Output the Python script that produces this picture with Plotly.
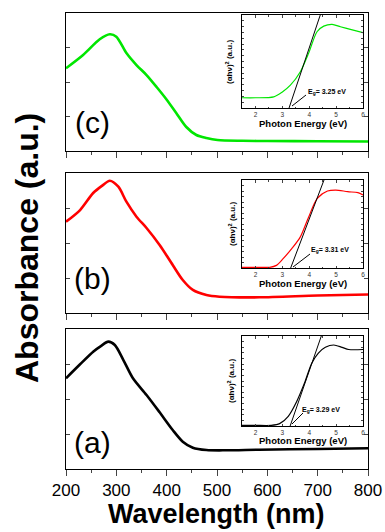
import plotly.graph_objects as go

W, H = 385, 532

# ---------------- main spectra (absorbance, a.u.) ----------------
wl_a = [200, 228, 254, 270, 284, 297, 314, 333, 360, 386, 412, 432, 452, 479, 518, 584, 700, 800]
abs_a = [1.296, 1.496, 1.676, 1.76, 1.819, 1.771, 1.557, 1.296, 1.057, 0.81, 0.557, 0.39, 0.304, 0.271, 0.267, 0.276, 0.286, 0.296]

wl_b = [200, 228, 254, 272, 287, 304, 320, 340, 360, 386, 412, 432, 452, 479, 505, 584, 700, 800]
abs_b = [1.304, 1.471, 1.714, 1.82, 1.890, 1.804, 1.590, 1.376, 1.214, 0.971, 0.686, 0.471, 0.329, 0.257, 0.233, 0.224, 0.25, 0.264]

wl_c = [200, 234, 267, 287, 300, 320, 340, 360, 380, 399, 419, 439, 459, 479, 501, 550, 600, 700, 800]
abs_c = [1.199, 1.391, 1.619, 1.691, 1.657, 1.420, 1.246, 1.101, 0.928, 0.754, 0.551, 0.348, 0.232, 0.188, 0.159, 0.148, 0.145, 0.141, 0.138]

# ---------------- inset Tauc plots ----------------
ev_a = [1.5, 2.0, 2.59, 2.90, 3.22, 3.53, 3.84, 4.09, 4.34, 4.60, 4.91, 5.22, 5.47, 6.0]
tauc_a = [0.007, 0.007, 0.007, 0.026, 0.108, 0.27, 0.49, 0.695, 0.81, 0.874, 0.90, 0.874, 0.85, 0.85]

ev_b = [1.5, 2.0, 2.53, 2.78, 3.03, 3.35, 3.67, 3.98, 4.30, 4.68, 4.99, 5.43, 5.81, 6.0]
tauc_b = [0.008, 0.008, 0.008, 0.03, 0.106, 0.22, 0.354, 0.58, 0.79, 0.875, 0.886, 0.867, 0.856, 0.83]

ev_c = [1.5, 2.0, 2.68, 2.99, 3.30, 3.67, 3.98, 4.29, 4.54, 4.85, 5.16, 5.53, 6.0]
tauc_c = [0.11, 0.11, 0.12, 0.17, 0.245, 0.39, 0.59, 0.82, 0.88, 0.90, 0.874, 0.845, 0.81]

eg_values = [3.29, 3.31, 3.25]          # a, b, c
tangent_top = [4.45, 4.55, 4.41]        # photon energy where tangent reaches top of inset
eg_labels = ["E<sub>g</sub>= 3.29 eV", "E<sub>g</sub>= 3.31 eV", "E<sub>g</sub>= 3.25 eV"]
panel_labels = ["(a)", "(b)", "(c)"]
x_ticks = [200, 300, 400, 500, 600, 700, 800]
inset_ticks = [2, 3, 4, 5, 6]

colors = ["#000000", "#ff0000", "#00e600"]
FONT = "Liberation Sans, Arial, sans-serif"


def px(x):
    return x / W


def py(y):
    return 1 - y / H


# panel pixel boxes (top, bottom)
panels = [(329, 469), (173, 313), (13, 151)]
insets = [(336, 426), (180, 268), (15, 108)]
X0, X1 = 66, 368
IX0, IX1 = 242, 363

fig = go.Figure()

mains = [(wl_a, abs_a), (wl_b, abs_b), (wl_c, abs_c)]
taucs = [(ev_a, tauc_a), (ev_b, tauc_b), (ev_c, tauc_c)]

for i in range(3):
    xa = "x" if i == 0 else f"x{i+1}"
    ya = "y" if i == 0 else f"y{i+1}"
    fig.add_trace(go.Scatter(x=mains[i][0], y=mains[i][1], mode="lines",
                             line=dict(color=colors[i], width=2.6, shape="spline", smoothing=0.8),
                             xaxis=xa, yaxis=ya, showlegend=False))
for i in range(3):
    xa = f"x{i+4}"
    ya = f"y{i+4}"
    fig.add_trace(go.Scatter(x=taucs[i][0], y=taucs[i][1], mode="lines",
                             line=dict(color=colors[i], width=1.2, shape="spline", smoothing=0.8),
                             xaxis=xa, yaxis=ya, showlegend=False))
    fig.add_trace(go.Scatter(x=[eg_values[i], tangent_top[i]], y=[0, 1], mode="lines",
                             line=dict(color="black", width=1),
                             xaxis=xa, yaxis=ya, showlegend=False))

layout = dict(width=W, height=H, margin=dict(l=0, r=0, t=0, b=0, autoexpand=False),
              paper_bgcolor="white", plot_bgcolor="white", showlegend=False,
              font=dict(family=FONT, color="black"))

for i in range(3):
    top, bot = panels[i]
    xk = "xaxis" if i == 0 else f"xaxis{i+1}"
    yk = "yaxis" if i == 0 else f"yaxis{i+1}"
    ya = "y" if i == 0 else f"y{i+1}"
    xa = "x" if i == 0 else f"x{i+1}"
    layout[xk] = dict(domain=[px(X0), px(X1)], anchor=ya, range=[200, 800], automargin=False,
                      tickvals=x_ticks, ticks="outside", ticklen=6, tickwidth=1,
                      minor=dict(dtick=50, tick0=200, ticks="outside", ticklen=3),
                      showticklabels=(i == 0), tickfont=dict(size=17, family=FONT),
                      showline=True, linecolor="black", linewidth=1, mirror=True,
                      showgrid=False, zeroline=False)
    layout[yk] = dict(domain=[py(bot), py(top)], anchor=xa, range=[0, 2], dtick=0.5, automargin=False,
                      ticks="inside", ticklen=4, showticklabels=False,
                      showline=True, linecolor="black", linewidth=1, mirror="ticks",
                      showgrid=False, zeroline=False)

for i in range(3):
    top, bot = insets[i]
    layout[f"xaxis{i+4}"] = dict(domain=[px(IX0), px(IX1)], anchor=f"y{i+4}", range=[1.5, 6],
                                 automargin=False,
                                 tickvals=inset_ticks, ticks="inside", ticklen=2.5,
                                 minor=dict(dtick=0.5, tick0=1.5, ticks="inside", ticklen=1.5),
                                 tickfont=dict(size=6.5, family=FONT, color="#333"),
                                 showline=True, linecolor="black", linewidth=1, mirror="ticks",
                                 showgrid=False, zeroline=False)
    layout[f"yaxis{i+4}"] = dict(domain=[py(bot), py(top)], anchor=f"x{i+4}", range=[0, 1],
                                 automargin=False,
                                 dtick=0.0625, ticks="inside", ticklen=2, showticklabels=False,
                                 showline=True, linecolor="black", linewidth=1, mirror="ticks",
                                 showgrid=False, zeroline=False)

fig.update_layout(**layout)

ann = []
label_y = [442, 278, 122]
inset_title_y = [440, 283, 124]
inset_ytitle = [(231, 381), (232, 224), (229, 62)]
eg_pos = [(321, 410), (330, 250), (327, 92)]
pointer = [((292, 424), (303, 413)), ((293, 267), (310, 254)), ((292, 106), (306, 95))]
for i in range(3):
    ann.append(dict(x=px(92), y=py(label_y[i]), xref="paper", yref="paper", text=panel_labels[i],
                    showarrow=False, font=dict(size=30, family=FONT), xanchor="center", yanchor="middle"))
    ann.append(dict(x=px((IX0 + IX1) / 2), y=py(inset_title_y[i]), xref="paper", yref="paper",
                    text="<b>Photon Energy (eV)</b>", showarrow=False,
                    font=dict(size=9.5, family=FONT), xanchor="center", yanchor="middle"))
    ann.append(dict(x=px(inset_ytitle[i][0]), y=py(inset_ytitle[i][1]), xref="paper", yref="paper",
                    text="<b>(αhν)<sup>2</sup> (a.u.)</b>", textangle=-90, showarrow=False,
                    font=dict(size=8, family=FONT), xanchor="center", yanchor="middle"))
    ann.append(dict(x=px(eg_pos[i][0]), y=py(eg_pos[i][1]), xref="paper", yref="paper",
                    text="<b>" + eg_labels[i] + "</b>", showarrow=False,
                    font=dict(size=7, family=FONT), xanchor="center", yanchor="middle"))

ann.append(dict(x=px(27), y=py(248), xref="paper", yref="paper", text="<b>Absorbance (a.u.)</b>",
                textangle=-90, showarrow=False, font=dict(size=32, family=FONT),
                xanchor="center", yanchor="middle"))
ann.append(dict(x=px(216), y=py(514), xref="paper", yref="paper", text="<b>Wavelength (nm)</b>",
                showarrow=False, font=dict(size=27, family=FONT), xanchor="center", yanchor="middle"))

shapes = []
for i in range(3):
    (x0, y0), (x1, y1) = pointer[i]
    shapes.append(dict(type="line", xref="paper", yref="paper", x0=px(x0), y0=py(y0), x1=px(x1), y1=py(y1),
                       line=dict(color="black", width=1)))

fig.update_layout(annotations=ann, shapes=shapes)
fig.write_html("out.html")
